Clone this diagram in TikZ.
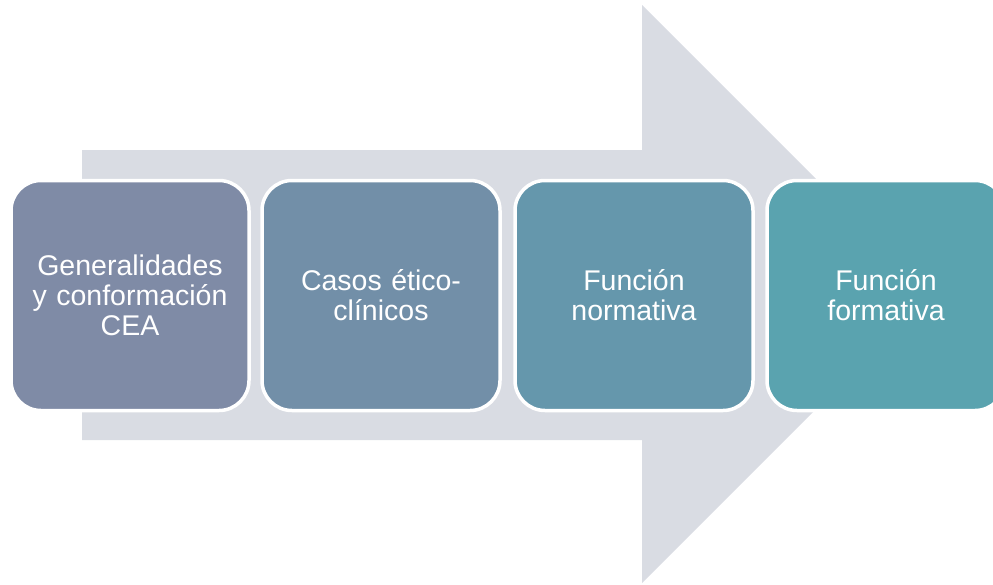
\documentclass[tikz,border=0pt]{standalone}
\usepackage{fontspec}
\setmainfont{Liberation Sans}
\definecolor{arrowgray}{RGB}{217,220,227}
\definecolor{cA}{RGB}{127,139,166}
\definecolor{cB}{RGB}{114,143,168}
\definecolor{cC}{RGB}{101,151,172}
\definecolor{cD}{RGB}{90,163,175}
\tikzset{
  stepbox/.style={rectangle, rounded corners=30pt, draw=white, line width=3.5pt,
    minimum width=238pt, minimum height=230pt, text width=228pt, align=center,
    text=white, inner sep=0pt,
    font=\fontsize{28.5pt}{30pt}\selectfont},
}
\begin{document}
\begin{tikzpicture}[x=1pt,y=-1pt]
\useasboundingbox (0,0) rectangle (993,584);
\clip (0,0) rectangle (993,584);
\fill[arrowgray] (82,150) -- (642,150) -- (642,5) -- (931,294) -- (642,583) -- (642,440) -- (82,440) -- cycle;
\node[stepbox, fill=cA] (b1) at (130,295.5) {Generalidades\\y conformación\\CEA};
\node[stepbox, fill=cB] (b2) at (381,295.5) {Casos ético-\\clínicos};
\node[stepbox, fill=cC] (b3) at (634,295.5) {Función\\normativa};
\node[stepbox, fill=cD] (b4) at (886,295.5) {Función\\formativa};
\end{tikzpicture}
\end{document}
